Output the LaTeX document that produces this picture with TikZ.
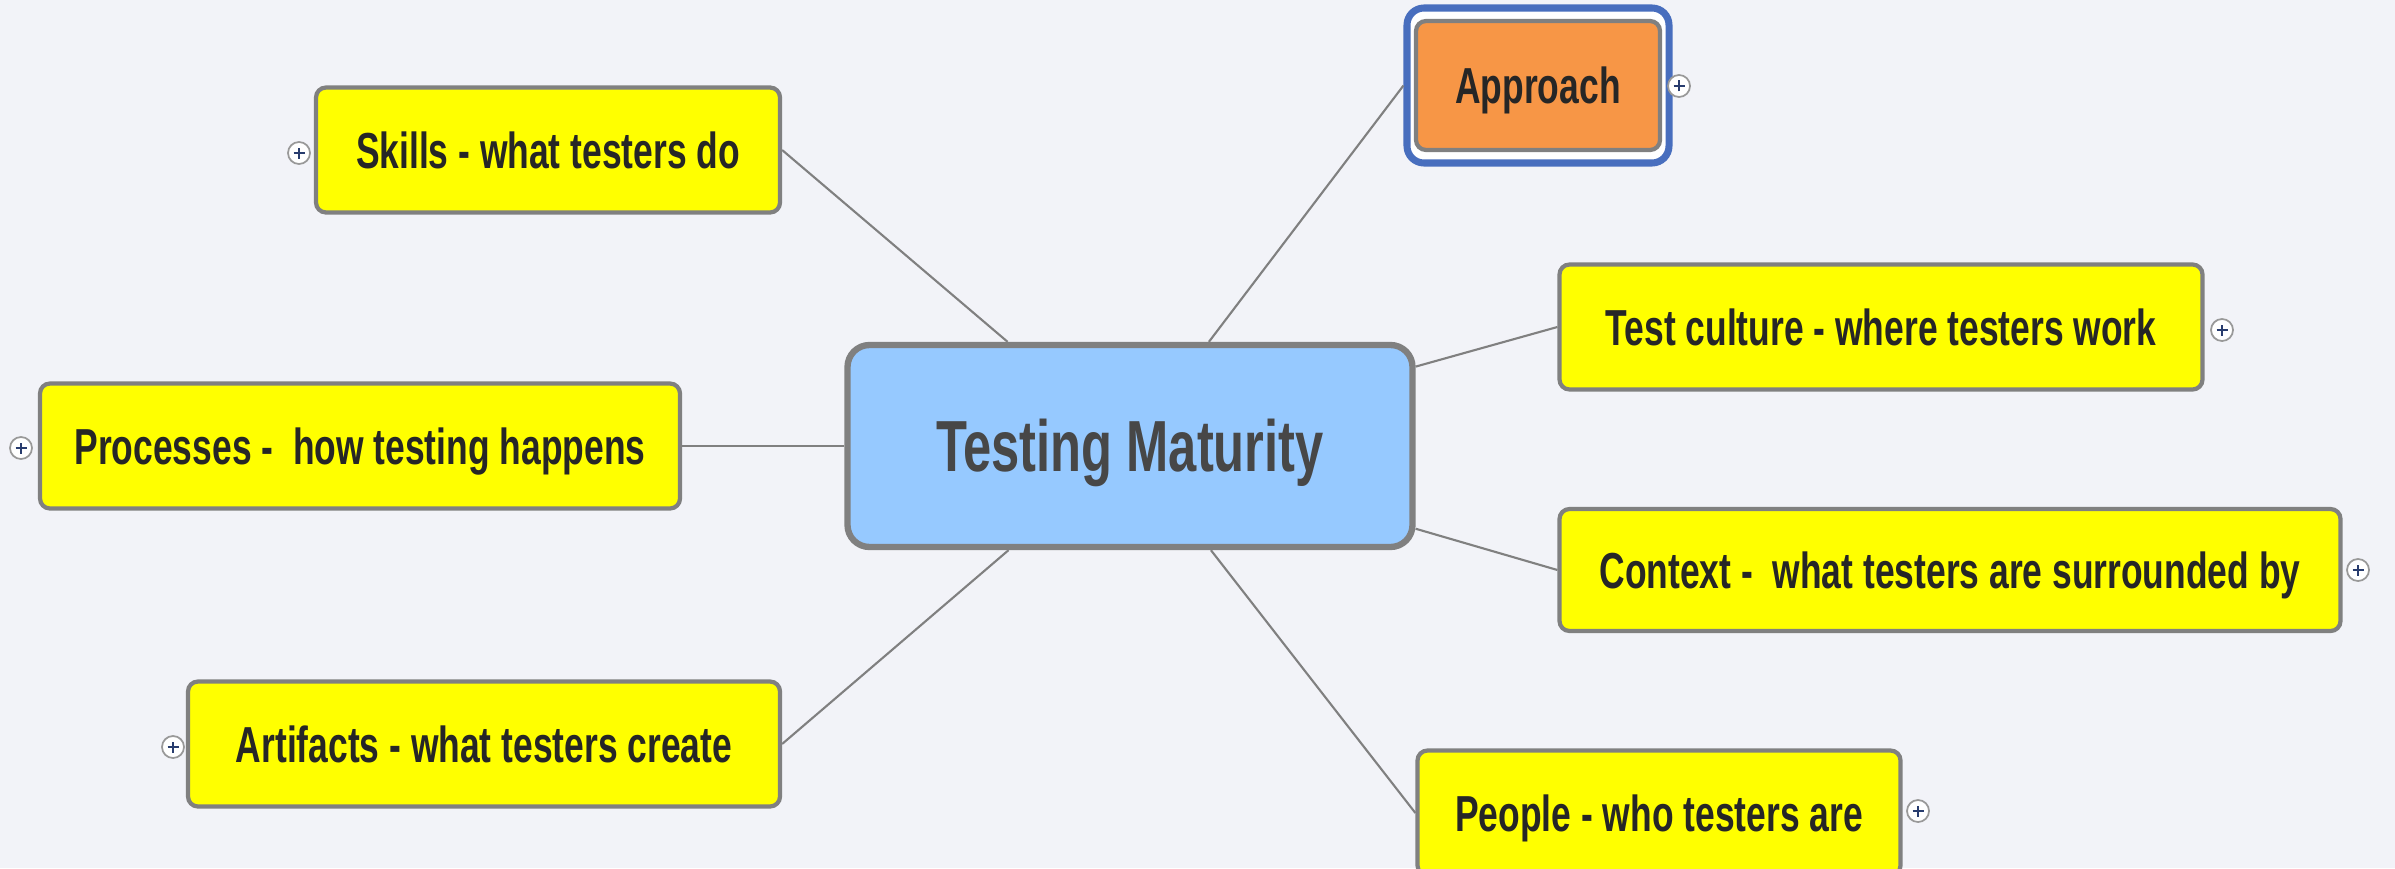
\documentclass[tikz,border=0pt]{standalone}
\usepackage{fontspec}
\setmainfont[FakeStretch=0.7]{Liberation Sans}
\usepackage{xcolor}
\usetikzlibrary{calc}
\definecolor{paper}{RGB}{242,243,248}
\definecolor{topicyellow}{RGB}{255,255,0}
\definecolor{rootblue}{RGB}{150,201,255}
\definecolor{apporange}{RGB}{247,150,70}
\definecolor{selblue}{RGB}{72,110,190}
\definecolor{rimgray}{RGB}{128,128,128}
\definecolor{plusblue}{RGB}{40,60,110}

\tikzset{
  topic/.style={draw=rimgray, line width=1.2pt, fill=topicyellow, rounded corners=0.1cm,
    minimum height=1.25cm, inner sep=0pt, text=black!85, text height=10.3pt, text depth=0pt,
    font=\fontsize{14.4}{16}\selectfont\bfseries},
  root/.style={draw=rimgray, line width=1.8pt, fill=rootblue, rounded corners=0.22cm,
    minimum width=5.65cm, minimum height=2.02cm, inner sep=0pt, text=black!72,
    text height=14.7pt, text depth=0pt,
    font=\fontsize{20.6}{22}\selectfont\bfseries},
  branch/.style={draw=rimgray, line width=0.6pt},
  folder/.style={circle, draw=rimgray!80, fill=white, line width=0.5pt,
    minimum size=0.22cm, inner sep=0pt,
    path picture={\draw[plusblue, line width=0.5pt]
      ($(path picture bounding box.center)+(-0.055,0)$) -- ++(0.11,0)
      ($(path picture bounding box.center)+(0,-0.055)$) -- ++(0,0.11);}}
}

\begin{document}
\begin{tikzpicture}
	\fill[paper] (0,0) rectangle (23.95,8.68);
	\useasboundingbox (0,0) rectangle (23.95,8.68);
	\clip (0,0) rectangle (23.95,8.68);
	
	\node[root] (tm) at (11.30,4.22) {Testing Maturity};
	
	\node[topic, minimum width=4.64cm] (sk) at (5.48,7.18) {Skills - what testers do};
	\node[topic, minimum width=6.40cm] (pr) at (3.60,4.22) {Processes - \ how testing happens};
	\node[topic, minimum width=5.92cm] (ar) at (4.84,1.24) {Artifacts - what testers create};
	\node[topic, minimum width=6.43cm] (tc) at (18.81,5.41) {Test culture - where testers work};
	\node[topic, minimum width=7.81cm, minimum height=1.22cm] (cx) at (19.50,2.98) {Context - \ what testers are surrounded by};
	\node[topic, minimum width=4.83cm] (pe) at (16.59,0.55) {People - who testers are};
	
	% selected topic
	\node[draw=selblue, line width=2pt, fill=white, rounded corners=0.17cm,
		minimum width=2.62cm, minimum height=1.55cm] (sel) at (15.38,7.825) {};
	\node[topic, fill=apporange, minimum width=2.44cm, minimum height=1.29cm] (ap) at (15.38,7.825) {Approach};
	
	\draw[branch] (tm) -- (sk.east);
	\draw[branch] (tm) -- (pr.east);
	\draw[branch] (tm) -- (ar.east);
	\draw[branch] (tm) -- (sel.west);
	\draw[branch] (tm) -- (tc.west);
	\draw[branch] (tm) -- (cx.west);
	\draw[branch] (tm) -- (pe.west);
	
	\node[folder] (sk+) at (2.99,7.15) {};
	\node[folder] (pr+) at (0.21,4.20) {};
	\node[folder] (ar+) at (1.73,1.21) {};
	\node[folder] (ap+) at (16.79,7.82) {};
	\node[folder] (tc+) at (22.22,5.38) {};
	\node[folder] (cx+) at (23.58,2.98) {};
	\node[folder] (pe+) at (19.18,0.57) {};
\end{tikzpicture}
\end{document}
